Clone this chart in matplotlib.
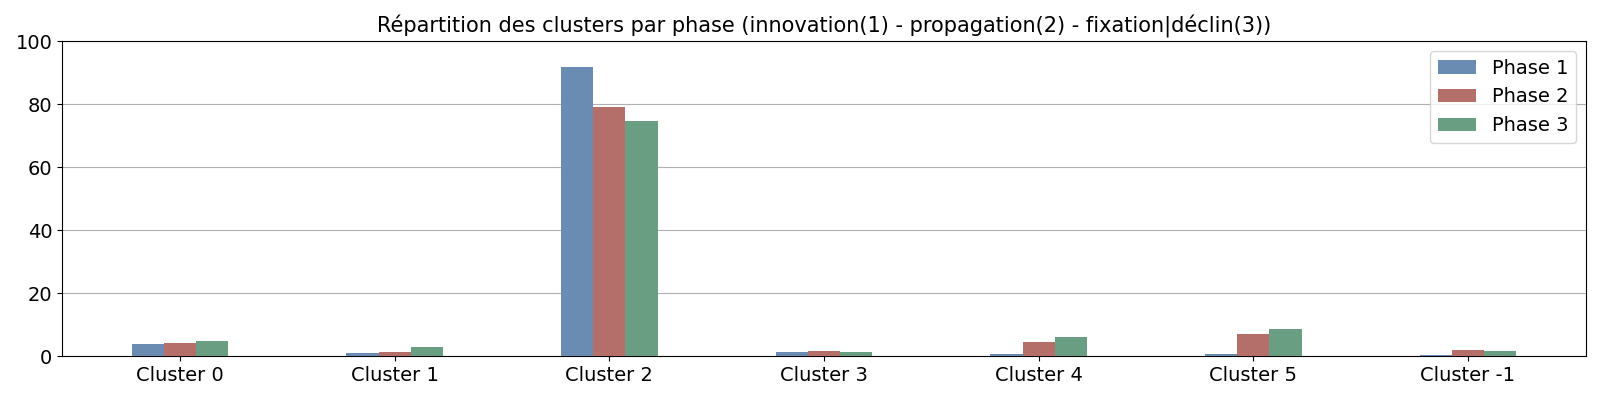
import matplotlib
matplotlib.use("Agg")
import matplotlib.pyplot as plt
import numpy as np

categories = ["Cluster 0", "Cluster 1", "Cluster 2", "Cluster 3", "Cluster 4", "Cluster 5", "Cluster -1"]
phase1 = [3.8, 0.95, 91.8, 1.25, 0.65, 0.65, 0.3]
phase2 = [4.1, 1.25, 79.1, 1.6, 4.4, 7.0, 1.9]
phase3 = [4.8, 2.9, 74.7, 1.25, 6.0, 8.6, 1.6]
series_names = ["Phase 1", "Phase 2", "Phase 3"]
colors = ["#6a8cb3", "#b46f6a", "#6a9e83"]

fig = plt.figure(figsize=(16, 4), dpi=100)
ax = fig.add_axes([0.03875, 0.110, 0.9525, 0.787])
x = np.arange(len(categories))
w = 0.15
for i, (vals, name, c) in enumerate(zip([phase1, phase2, phase3], series_names, colors)):
    ax.bar(x + (i - 1) * w, vals, width=w, color=c, label=name, zorder=3)

ax.set_xticks(x)
ax.set_xticklabels(categories)
ax.set_xlim(-0.55, 6.55)
ax.set_ylim(0, 100)
ax.yaxis.grid(True, color="#b0b0b0", linewidth=0.8, zorder=0)
ax.set_axisbelow(True)
ax.tick_params(labelsize=14)
ax.set_title("Répartition des clusters par phase (innovation(1) - propagation(2) - fixation|déclin(3))", fontsize=15)
ax.legend(loc="upper right", fontsize=14)
fig.savefig("out.png", dpi=100)
